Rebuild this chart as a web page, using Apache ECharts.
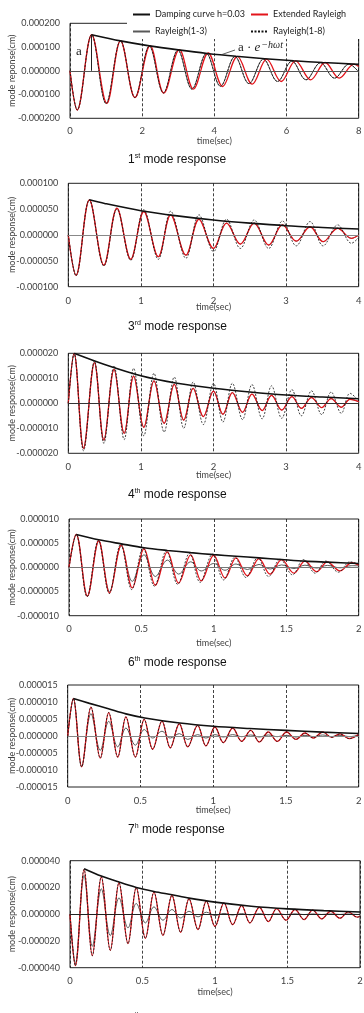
<!DOCTYPE html>
<html>
<head>
<meta charset="utf-8">
<script src="https://cdn.jsdelivr.net/npm/echarts@6/dist/echarts.min.js"></script>
<style>
html, body { margin: 0; padding: 0; background: #fff; }
#main { width: 364px; height: 1013px; }
</style>
</head>
<body>
<div id="main"></div>
<script>
// mode response values in 1e-6 cm, time in sec; [t, value] at the peaks and troughs
const mode1Extended = [[0,0],[0.2,-165],[0.6,152],[1.02,-137],[1.4,127],[1.8,-113],[2.22,106],[2.6,-94],[3.03,89],[3.42,-77],[3.83,75],[4.23,-66],[4.64,61],[5.05,-56],[5.45,49],[5.85,-45],[6.25,42],[6.67,-38],[7.07,35],[7.46,-31],[7.87,28],[8,18]];
const mode1Rayleigh = [[0,0],[0.2,-165],[0.6,152],[1.0,-138],[1.4,126],[1.8,-113],[2.2,104],[2.59,-93],[2.99,87],[3.38,-77],[3.78,73],[4.17,-65],[4.57,60],[4.96,-54],[5.36,49],[5.75,-45],[6.15,41],[6.54,-38],[6.94,34],[7.33,-31],[7.73,28],[8,-5]];
const mode1Envelope = [[0.6,152],[1.4,126],[2.2,105],[3.0,88],[3.8,73],[4.6,61],[5.4,51],[6.2,42],[7.0,35],[8.0,27]];
const mode1PeakA = [0.6, 152];

const mode3Extended = [[0,0],[0.106,-78],[0.29,68],[0.49,-58.5],[0.67,52],[0.86,-47],[1.04,45.5],[1.24,-42],[1.41,39],[1.62,-39],[1.8,30.5],[2.0,-26],[2.18,23],[2.37,-17.5],[2.56,23],[2.76,-19.5],[2.95,19.5],[3.14,-12],[3.33,16],[3.51,-13],[3.71,13],[3.9,-6.5],[4,0]];
const mode3Rayleigh18 = [[0,0],[0.106,-79],[0.29,68],[0.49,-60],[0.67,50],[0.86,-49],[1.04,49],[1.24,-47],[1.41,46],[1.62,-45],[1.8,39],[2.0,-32],[2.18,30.5],[2.37,-26],[2.56,29],[2.76,-26],[2.95,27],[3.14,-21],[3.33,26],[3.51,-21],[3.71,19.5],[3.9,-16],[4,-5]];
const mode3Envelope = [[0.29,68],[0.5,61],[1.0,47],[1.5,37],[2.0,29],[2.5,23],[3.0,18],[3.5,14.5],[4.0,11.5]];

const mode4Extended = [[0,0],[0.08,20],[0.21,-18],[0.36,16.3],[0.49,-14.7],[0.63,13.6],[0.77,-12],[0.9,10.9],[1.04,-9.6],[1.18,9],[1.32,-8],[1.46,7.6],[1.59,-6.7],[1.72,6],[1.86,-5.3],[2.0,4.9],[2.13,-4.4],[2.26,4.3],[2.4,-3.6],[2.53,3.7],[2.67,-2.9],[2.8,3.2],[2.94,-2.7],[3.08,2.7],[3.21,-2],[3.35,2.3],[3.49,-1.7],[3.62,1.9],[3.76,-1.6],[3.88,1.6],[4,0.7]];
const mode4Rayleigh18 = [[0,0],[0.08,20],[0.21,-19],[0.36,17],[0.49,-16],[0.63,15],[0.77,-14.5],[0.9,14],[1.04,-13],[1.18,12],[1.32,-11.5],[1.46,10.5],[1.59,-10],[1.72,8.5],[1.86,-8.5],[2.0,8],[2.13,-7.5],[2.26,8],[2.4,-6.5],[2.53,7.5],[2.67,-6.2],[2.8,7],[2.94,-6],[3.08,5.5],[3.21,-5],[3.35,5],[3.49,-4.5],[3.62,4.5],[3.76,-4],[3.88,4],[4,1]];
const mode4Envelope = [[0.08,20],[0.5,15.5],[1.0,11],[1.5,8],[2.0,6],[2.5,4.5],[3.0,3.3],[3.5,2.5],[4.0,1.8]];

const mode6Extended = [[0,0],[0.05,6.8],[0.127,-5.95],[0.205,5.5],[0.28,-5.3],[0.361,4.66],[0.437,-4.26],[0.518,3.85],[0.596,-3.7],[0.679,3.2],[0.757,-3.25],[0.84,2.6],[0.913,-2.8],[0.999,2.5],[1.077,-2.2],[1.153,1.96],[1.231,-1.76],[1.312,1.8],[1.388,-1.42],[1.468,1.6],[1.553,-1.2],[1.629,1.28],[1.71,-0.88],[1.783,1.15],[1.871,-0.74],[1.952,0.95],[2,0.47]];
const mode6Rayleigh13 = [[0,0],[0.05,6.8],[0.127,-6],[0.205,5.4],[0.28,-5],[0.361,4.4],[0.437,-2.9],[0.518,2.6],[0.596,-1.9],[0.679,1.5],[0.757,-1.4],[0.84,1.15],[0.913,-0.75],[0.999,0.8],[1.077,-0.6],[1.153,0.7],[1.231,-0.45],[1.312,0.6],[1.388,-0.35],[1.468,0.5],[1.553,-0.25],[1.629,0.45],[1.71,-0.15],[1.783,0.4],[1.871,-0.1],[1.952,0.35],[2,0.3]];
const mode6Rayleigh18 = [[0,0],[0.05,6.8],[0.125,-6.1],[0.203,5.6],[0.278,-5.4],[0.357,4.8],[0.433,-4.6],[0.512,4],[0.59,-3.9],[0.672,3.4],[0.75,-3.5],[0.832,2.9],[0.905,-3.1],[0.99,2.7],[1.068,-2.6],[1.145,2.1],[1.222,-2.1],[1.303,2],[1.378,-1.9],[1.458,1.7],[1.543,-1.55],[1.618,1.6],[1.7,-1.2],[1.773,1.3],[1.86,-1],[1.94,1.15],[2,0.6]];
const mode6Envelope = [[0.05,6.8],[0.205,5.7],[0.361,4.86],[0.518,4.05],[0.679,3.5],[0.84,3.04],[1.0,2.63],[1.153,2.3],[1.312,1.96],[1.468,1.62],[1.629,1.28],[1.783,1.08],[2.0,0.81]];

const mode7Extended = [[0,0],[0.039,11],[0.096,-9.1],[0.16,8.5],[0.224,-6.5],[0.282,6.9],[0.344,-6.2],[0.4,5.6],[0.465,-6.2],[0.526,4.9],[0.584,-3.9],[0.648,4.4],[0.705,-3.5],[0.767,3.6],[0.825,-3.2],[0.893,3.1],[0.95,-2.9],[1.012,2.65],[1.07,-1.96],[1.134,2.35],[1.196,-1.57],[1.258,1.67],[1.317,-1.76],[1.379,1.18],[1.44,-1.57],[1.505,1.18],[1.569,-0.98],[1.631,0.88],[1.688,-0.59],[1.753,1.18],[1.814,-0.4],[1.871,0.6],[1.935,-0.78],[1.997,0.4]];
const mode7Rayleigh13 = [[0,0],[0.039,11],[0.096,-9],[0.16,6.6],[0.224,-4.2],[0.282,4.3],[0.344,-3.2],[0.4,2.35],[0.465,-2.7],[0.526,1.9],[0.584,-0.6],[0.648,1.4],[0.705,-0.6],[0.767,0.7],[0.825,-1],[0.893,0.4],[0.95,-0.6],[1.012,0.4],[1.07,-0.3],[1.134,0.4],[1.196,-0.2],[1.258,0.3],[1.317,-0.3],[1.379,0.3],[1.44,-0.2],[1.505,0.2],[1.569,-0.3],[1.631,0.2],[1.688,-0.2],[1.753,0.3],[1.814,-0.2],[1.871,0.2],[1.935,-0.2],[1.997,0.2]];
const mode7Envelope = [[0.039,11],[0.15,9.6],[0.28,8],[0.4,6.5],[0.53,5.3],[0.77,3.8],[1.0,2.85],[1.25,2.2],[1.5,1.65],[1.75,1.15],[2.0,0.75]];

const mode8Extended = [[0,0],[0.037,-38.5],[0.097,33.5],[0.154,-31],[0.216,28],[0.278,-27],[0.338,23.5],[0.4,-22],[0.457,19.8],[0.52,-18],[0.579,16.5],[0.641,-15.8],[0.703,14],[0.763,-13.5],[0.821,11.5],[0.883,-11.5],[0.94,9.8],[1.0,-9.2],[1.062,8.5],[1.122,-7.8],[1.184,6.5],[1.241,-6.5],[1.306,5.2],[1.368,-5.5],[1.425,4.2],[1.49,-4.5],[1.552,3.5],[1.614,-4],[1.674,3],[1.736,-3.5],[1.798,2.2],[1.862,-3],[1.919,1.8],[1.981,-2.2],[2,-1.5]];
const mode8Rayleigh13 = [[0,0],[0.037,-37],[0.097,29],[0.154,-24],[0.216,19],[0.278,-16],[0.338,12.2],[0.4,-10.2],[0.457,8],[0.52,-6.5],[0.579,5.5],[0.641,-4.5],[0.703,3.5],[0.763,-2.8],[0.821,2.2],[0.883,-2],[0.94,1.5],[1.0,-1],[1.062,0.6],[1.122,-0.6],[1.184,0.5],[1.241,-0.5],[1.306,0.4],[1.368,-0.4],[1.425,0.3],[1.49,-0.3],[1.552,0.3],[1.614,-0.3],[1.674,0.2],[1.736,-0.2],[1.798,0.2],[1.862,-0.2],[1.919,0.2],[1.981,-0.2],[2,0]];
const mode8Envelope = [[0.097,34],[0.216,28.5],[0.338,24],[0.457,20],[0.579,17],[0.703,14.5],[0.821,12],[1.0,9],[1.25,6],[1.5,4],[1.75,2.7],[2.0,1.7]];

const seriesNames = ['Damping curve h=0.03', 'Extended Rayleigh', 'Rayleigh(1-3)', 'Rayleigh(1-8)'];

const panels = [
  { title: ['1', 'st'], yName: 'mode reponse(cm)', xMax: 8, xStep: 2, yMax: 200, yStep: 100,
    env: mode1Envelope, ext: mode1Extended, r13: mode1Rayleigh, r18: mode1Rayleigh,
    left: 70, top: 23.3, height: 95, right: 5.3, margin: 8, gap: 18, zero: '#555', titleTop: 153 },
  { title: ['3', 'rd'], yName: 'mode response(cm)', xMax: 4, xStep: 1, yMax: 100, yStep: 50,
    env: mode3Envelope, ext: mode3Extended, r13: mode3Extended, r18: mode3Rayleigh18,
    left: 68.3, top: 183.3, height: 103.4, right: 5.3, margin: 9.5, gap: 15.5, zero: '#888', titleTop: 320 },
  { title: ['4', 'th'], yName: 'mode response(cm)', xMax: 4, xStep: 1, yMax: 20, yStep: 10,
    env: mode4Envelope, ext: mode4Extended, r13: mode4Extended, r18: mode4Rayleigh18,
    left: 68.3, top: 353.3, height: 100, right: 5.3, margin: 9, gap: 17, zero: '#333', titleTop: 488 },
  { title: ['6', 'th'], yName: 'mode response(cm)', xMax: 2, xStep: 0.5, yMax: 10, yStep: 5,
    env: mode6Envelope, ext: mode6Extended, r13: mode6Rayleigh13, r18: mode6Rayleigh18,
    left: 69, top: 519, height: 96.7, right: 5.3, margin: 8, gap: 23, zero: '#777', titleTop: 656 },
  { title: ['7', 'h'], yName: 'mode response(cm)', xMax: 2, xStep: 0.5, yMax: 15, yStep: 5,
    env: mode7Envelope, ext: mode7Extended, r13: mode7Rayleigh13, r18: mode7Extended,
    left: 67.7, top: 685, height: 102, right: 5.3, margin: 8.5, gap: 18.5, zero: '#888', titleTop: 823 },
  { title: ['8', 'th'], yName: 'mode response(cm)', xMax: 2, xStep: 0.5, yMax: 40, yStep: 20,
    env: mode8Envelope, ext: mode8Extended, r13: mode8Rayleigh13, r18: mode8Extended,
    left: 70, top: 860.7, height: 107, right: 4, margin: 7.8, gap: 19.5, zero: '#222', titleTop: 1012 }
];

const axisFont = 'Lato';
const labelColor = '#404040';
const grid = [], xAxis = [], yAxis = [], series = [], title = [];

panels.forEach(function (p, i) {
  grid.push({ left: p.left, right: p.right, top: p.top, height: p.height, outerBoundsMode: 'none',
    show: true, borderColor: '#222', borderWidth: 1, backgroundColor: 'transparent' });
  xAxis.push({
    type: 'value', gridIndex: i, min: 0, max: p.xMax, interval: p.xStep,
    name: 'time(sec)', nameLocation: 'middle', nameGap: p.gap, nameMoveOverlap: false,
    nameTextStyle: { fontFamily: axisFont, fontSize: 9, color: labelColor },
    axisLine: { show: false, onZero: false }, axisTick: { show: false },
    axisLabel: { fontFamily: axisFont, fontSize: 9.5, color: labelColor, margin: p.margin },
    splitLine: { show: true, lineStyle: { color: '#111', width: 0.8, type: [3, 2] } }
  });
  yAxis.push({
    type: 'value', gridIndex: i, min: -p.yMax, max: p.yMax, interval: p.yStep,
    name: p.yName, nameLocation: 'middle', nameGap: p.left - 16.5, nameRotate: 90, nameMoveOverlap: false,
    nameTextStyle: { fontFamily: axisFont, fontSize: 9, color: labelColor },
    axisLine: { show: false }, axisTick: { show: false }, splitLine: { show: false },
    axisLabel: { fontFamily: axisFont, fontSize: 9, color: labelColor, margin: 10,
      formatter: function (v) { return (v / 1e6).toFixed(6); } }
  });
  const base = { type: 'line', xAxisIndex: i, yAxisIndex: i, symbol: 'none', smooth: 0.36,
    animation: false, silent: true };
  series.push(Object.assign({}, base, {
    name: seriesNames[2], data: p.r13, color: '#595959',
    lineStyle: { color: '#595959', width: 1 },
    markLine: { silent: true, symbol: 'none', label: { show: false }, animation: false,
      lineStyle: { color: p.zero, width: 1.2, type: 'solid' }, data: [{ yAxis: 0 }] }
  }));
  series.push(Object.assign({}, base, {
    name: seriesNames[1], data: p.ext, color: '#e3141b',
    lineStyle: { color: '#e3141b', width: 1.3 }
  }));
  series.push(Object.assign({}, base, {
    name: seriesNames[3], data: p.r18, color: '#111',
    lineStyle: { color: '#111', width: 0.8, type: [2, 1.5] }
  }));
  const env = Object.assign({}, base, {
    name: seriesNames[0], data: p.env, smooth: 0.3, color: '#111',
    lineStyle: { color: '#111', width: 1.6 }
  });
  if (i === 0) {
    env.markLine = { silent: true, symbol: 'none', label: { show: false }, animation: false,
      lineStyle: { color: '#222', width: 1, type: 'solid' },
      data: [[{ coord: [mode1PeakA[0], 0] }, { coord: mode1PeakA }]] };
  }
  series.push(env);
  title.push({
    text: '{n|' + p.title[0] + '}{s|' + p.title[1] + '}{n| mode response}',
    left: 128, top: p.titleTop, padding: 0,
    textStyle: { fontWeight: 'normal', rich: {
      n: { fontFamily: 'Liberation Sans', fontSize: 12, fontWeight: 'normal', lineHeight: 14, color: '#111' },
      s: { fontFamily: 'Liberation Sans', fontSize: 7, fontWeight: 'normal', lineHeight: 14, color: '#111', verticalAlign: 'top', padding: [0, 0, 6, 0] }
    } }
  });
});

const legendText = { fontFamily: axisFont, fontSize: 9, color: '#222' };
const legendPos = [[132, 10], [250, 10], [132, 27], [250, 27]];
const legend = seriesNames.map(function (n, k) {
  return { data: [n], left: legendPos[k][0], top: legendPos[k][1], padding: 0,
    itemWidth: 17, itemHeight: 10, itemGap: 0, textStyle: legendText, selectedMode: false,
    itemStyle: { opacity: 0 } };
});

const option = {
  backgroundColor: '#fff',
  animation: false,
  title: title,
  legend: legend,
  grid: grid,
  xAxis: xAxis,
  yAxis: yAxis,
  series: series,
  graphic: [
    { type: 'rect', z: 3, shape: { x: 127, y: 0, width: 237, height: 39 }, style: { fill: '#fff' } },
    { type: 'text', z: 5, x: 76, y: 45, style: { text: 'a', font: '13px "Liberation Serif"', fill: '#222' } },
    { type: 'line', z: 5, shape: { x1: 222, y1: 54.5, x2: 235, y2: 50 }, style: { stroke: '#333', lineWidth: 0.8 } },
    { type: 'text', z: 5, x: 238, y: 40, style: {
      text: '{m|a · }{e|e}{s|−hωt}',
      rich: {
        m: { fontFamily: 'Liberation Serif', fontSize: 13, lineHeight: 15, fill: '#222' },
        e: { fontFamily: 'Liberation Serif', fontSize: 13, fontStyle: 'italic', lineHeight: 15, fill: '#222' },
        s: { fontFamily: 'Liberation Serif', fontSize: 10, fontStyle: 'italic', lineHeight: 15, fill: '#222', verticalAlign: 'top', padding: [0, 0, 5, 1] }
      } } }
  ]
};

const myChart = echarts.init(document.getElementById('main'));
myChart.setOption(option);
window.onresize = function () { myChart.resize(); };
</script>
</body>
</html>
